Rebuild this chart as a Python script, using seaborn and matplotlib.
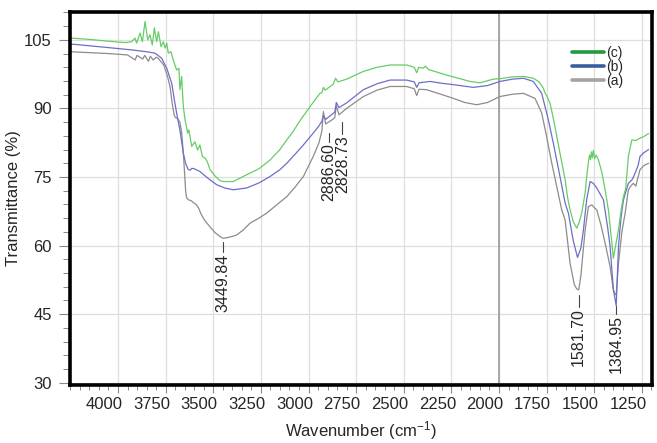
import numpy as np
import pandas as pd
import matplotlib
matplotlib.use('Agg')
import matplotlib.pyplot as plt
import matplotlib.transforms as mtransforms
from matplotlib.ticker import MultipleLocator
from matplotlib.lines import Line2D
import seaborn as sns

# ------------ data ------------

wn_a = [4250, 4150, 4050, 3950, 3910, 3900, 3870, 3860, 3840, 3830, 3815, 3800, 3790,
        3760, 3740, 3727, 3715, 3705, 3698, 3688, 3675, 3665, 3655, 3645, 3640, 3630,
        3615, 3605, 3590, 3578, 3565, 3545, 3517, 3490, 3465, 3449.84, 3430, 3400, 3377,
        3340, 3307, 3260, 3219, 3170, 3114, 3070, 3027, 2975, 2945, 2930, 2922, 2910,
        2880, 2862, 2854, 2840, 2800, 2712, 2640, 2572, 2485, 2445, 2432, 2420, 2380,
        2320, 2240, 2180, 2117, 2060, 1995, 1930, 1872, 1811, 1776, 1750, 1723, 1697,
        1671, 1653, 1627, 1605, 1592, 1581.7, 1570, 1566, 1548, 1531, 1513, 1500, 1487,
        1465, 1443, 1417, 1400, 1390, 1384.95, 1373, 1355, 1338, 1321, 1305, 1295, 1282,
        1270, 1260, 1240, 1215]
t_a = [102.4, 102.2, 102.0, 101.7, 100.6, 101.6, 100.8, 101.6, 100.3, 101.4, 100.6, 101.2, 101.0,
       99.5, 97.0, 94.8, 91.0, 88.5, 88.0, 87.8, 87.0, 84.5, 79.0, 72.0, 70.5, 70.0,
       69.8, 69.4, 69.0, 68.3, 67.0, 65.5, 64.1, 62.8, 62.0, 61.6, 61.7, 62.0, 62.3,
       63.5, 64.9, 66.0, 67.1, 68.8, 70.7, 72.8, 75.1, 79.5, 82.5, 85.0, 89.3, 86.6,
       87.4, 88.0, 90.6, 88.6, 90.0, 92.6, 94.0, 94.8, 94.8, 94.3, 92.8, 94.2, 94.1,
       93.3, 92.2, 91.3, 90.8, 91.3, 92.6, 93.1, 93.3, 92.2, 89.0, 83.8, 78.0, 72.9,
       67.8, 65.6, 56.1, 51.5, 50.5, 50.3, 53.5, 55.4, 63.4, 68.5, 68.9, 68.3, 67.8,
       64.5, 60.5, 55.4, 50.3, 49.3, 49.2, 56.1, 63.0, 67.1, 72.2, 73.2, 73.6, 73.0,
       75.0, 76.6, 77.5, 78.0]

wn_b = [4250, 4150, 4050, 3928, 3850, 3806, 3771, 3744, 3718, 3701, 3688, 3675, 3657,
        3645, 3631, 3620, 3613, 3600, 3570, 3530, 3482, 3440, 3395, 3324, 3260, 3202,
        3150, 3114, 3070, 3027, 2975, 2945, 2930, 2922, 2910, 2880, 2862, 2854, 2840,
        2800, 2712, 2640, 2572, 2485, 2445, 2432, 2420, 2362, 2300, 2240, 2135, 2060,
        1995, 1930, 1872, 1820, 1776, 1741, 1715, 1680, 1653, 1636, 1610, 1588, 1570,
        1557, 1540, 1522, 1505, 1487, 1452, 1430, 1417, 1400, 1384.95, 1373, 1360, 1347,
        1321, 1300, 1286, 1270, 1260, 1240, 1215]
t_b = [104.1, 103.7, 103.3, 102.8, 102.4, 102.1, 101.0, 98.8, 95.5, 91.1, 88.0, 85.3, 80.2,
       78.0, 76.6, 76.5, 76.9, 76.8, 76.2, 74.8, 73.3, 72.6, 72.2, 72.6, 73.7, 75.1,
       76.6, 78.0, 80.0, 82.0, 84.6, 86.2, 87.2, 88.4, 87.6, 88.6, 89.2, 91.3, 90.2,
       91.2, 94.1, 95.4, 96.2, 96.2, 95.8, 94.6, 95.6, 95.9, 95.5, 95.2, 94.6, 95.0,
       95.9, 96.4, 96.6, 95.9, 93.3, 87.5, 82.4, 75.1, 69.3, 67.1, 61.0, 57.4, 59.5,
       63.4, 70.0, 74.0, 73.6, 72.6, 70.0, 64.0, 59.8, 50.5, 46.8, 59.8, 66.0, 70.0,
       73.6, 74.5, 75.8, 77.5, 79.5, 80.3, 81.0]

wn_c = [4250, 4150, 4050, 3960, 3928, 3911, 3902, 3884, 3872, 3858, 3844, 3832, 3820,
        3809, 3797, 3788, 3774, 3762, 3753, 3744, 3736, 3722, 3710, 3692, 3680, 3675,
        3666, 3657, 3648, 3634, 3628, 3613, 3596, 3582, 3570, 3557, 3540, 3530, 3517,
        3490, 3465, 3447, 3395, 3324, 3260, 3202, 3150, 3114, 3080, 3045, 2990, 2940,
        2930, 2922, 2912, 2870, 2858, 2845, 2800, 2712, 2640, 2572, 2485, 2445, 2432,
        2422, 2400, 2385, 2370, 2275, 2152, 2100, 2030, 1995, 1930, 1872, 1820, 1790,
        1767, 1760, 1750, 1742, 1732, 1720, 1706, 1693, 1680, 1665, 1653, 1640, 1627,
        1610, 1592, 1580, 1566, 1548, 1540, 1530, 1525, 1520, 1515, 1510, 1505, 1498,
        1490, 1478, 1460, 1443, 1426, 1410, 1400, 1390, 1373, 1360, 1347, 1335, 1321,
        1303, 1280, 1260, 1242, 1215]
t_c = [105.4, 105.1, 104.7, 104.4, 104.6, 105.4, 104.3, 106.5, 104.6, 109.0, 105.0, 106.1, 103.9,
       107.6, 104.6, 106.8, 103.5, 104.6, 103.2, 104.3, 102.1, 102.4, 100.6, 98.4, 98.8, 94.1,
       97.0, 90.4, 87.5, 84.6, 85.3, 81.7, 82.7, 80.9, 82.0, 79.5, 79.0, 78.2, 76.6,
       75.2, 74.2, 74.0, 74.0, 75.5, 76.8, 78.7, 81.0, 83.1, 85.0, 87.3, 90.5, 93.3,
       93.4, 94.6, 94.0, 95.3, 96.6, 95.8, 96.4, 98.1, 99.0, 99.5, 99.5, 99.0, 97.8,
       99.0, 98.8, 99.2, 98.5, 97.3, 95.9, 95.6, 96.4, 96.5, 96.9, 97.0, 96.6, 95.8,
       94.4, 93.5, 92.8, 92.0, 91.1, 88.8, 86.0, 83.0, 80.2, 77.0, 74.4, 70.5, 67.8,
       65.2, 63.8, 65.0, 67.1, 71.5, 75.0, 78.5, 79.8, 78.8, 80.5, 79.2, 80.8, 79.0,
       79.8, 78.7, 76.0, 72.2, 67.8, 61.5, 57.2, 59.5, 63.4, 67.5, 70.7, 72.5, 79.5,
       83.1, 83.0, 83.5, 83.8, 84.5]

samples = ['(a)', '(b)', '(c)']
line_colors = ['#8c8c8c', '#6e6ec8', '#66cc66']
legend_colors = ['#a3a3a3', '#3b5d9e', '#22993d']

# peak labels: value, where it sits on the x axis, leader top, leader bottom
peak_wn = [3449.84, 2886.60, 2828.73, 1581.70, 1384.95]
peak_x = [3449.84, 2895, 2822, 1581.70, 1384.95]
peak_top = [60.8, 84.6, 87.1, 49.2, 46.8]
peak_bot = [58.6, 82.7, 84.4, 46.6, 45.0]

# ------------ long form table ------------

df = pd.concat([
    pd.DataFrame({'wn': wn_a, 'T': t_a, 'sample': '(a)'}),
    pd.DataFrame({'wn': wn_b, 'T': t_b, 'sample': '(b)'}),
    pd.DataFrame({'wn': wn_c, 'T': t_c, 'sample': '(c)'}),
], ignore_index=True)

sns.set_style('white')
plt.rcParams['font.family'] = ['Liberation Sans', 'DejaVu Sans']
plt.rcParams['mathtext.default'] = 'regular'

fig = plt.figure(figsize=(6.57, 4.43), dpi=100)
ax = fig.add_axes([0.1065, 0.131, 0.8859, 0.842])

sns.lineplot(data=df, x='wn', y='T', hue='sample', hue_order=samples,
             palette=dict(zip(samples, line_colors)), sort=False, estimator=None,
             linewidth=0.9, legend=False, ax=ax)

ax.set_xlim(4252, 1197)
ax.set_ylim(29.5, 111.1)

ax.set_xticks(np.arange(4000, 1249, -250))
ax.set_yticks(np.arange(30, 106, 15))
ax.xaxis.set_minor_locator(MultipleLocator(50))
ax.yaxis.set_minor_locator(MultipleLocator(3))
ax.grid(True, which='major', color='#dedede', linewidth=0.9)
ax.axvline(2000, color='#9a9a9a', linewidth=1.2, zorder=1)

ax.tick_params(axis='both', which='major', direction='out', length=6, width=0.8,
               color='#8a8a8a', labelsize=12, pad=3, bottom=True, left=True)
ax.tick_params(axis='y', which='major', length=8, pad=5)
ax.tick_params(axis='both', which='minor', direction='out', length=3.5, width=0.7,
               color='#8a8a8a', bottom=True, left=True)
ax.tick_params(axis='y', which='minor', length=5)

# tick labels sit a bit left of their grid lines in the original
shift = mtransforms.ScaledTranslation(-0.14, 0, fig.dpi_scale_trans)
for lab in ax.get_xticklabels():
    lab.set_transform(lab.get_transform() + shift)

for s in ax.spines.values():
    s.set_linewidth(2.6)
    s.set_color('black')

ax.set_xlabel('Wavenumber (cm$^{-1}$)', fontsize=12, labelpad=5)
ax.set_ylabel('Transmittance (%)', fontsize=12, labelpad=2)

# peak labels
for w, x, top, bot in zip(peak_wn, peak_x, peak_top, peak_bot):
    ax.plot([x, x], [top, bot], color='#444444', linewidth=0.8)
    ax.text(x, bot - 0.3, f'{w:.2f}', rotation=90, ha='center', va='top', fontsize=11.5)

handles = [Line2D([], [], color=c, linewidth=2.6) for c in legend_colors[::-1]]
ax.legend(handles, samples[::-1], loc='upper left', bbox_to_anchor=(0.862, 0.91),
          frameon=False, fontsize=10, handlelength=2.3, handletextpad=0.15,
          labelspacing=0.0, borderpad=0, borderaxespad=0)

fig.savefig('out.png', dpi=100)
